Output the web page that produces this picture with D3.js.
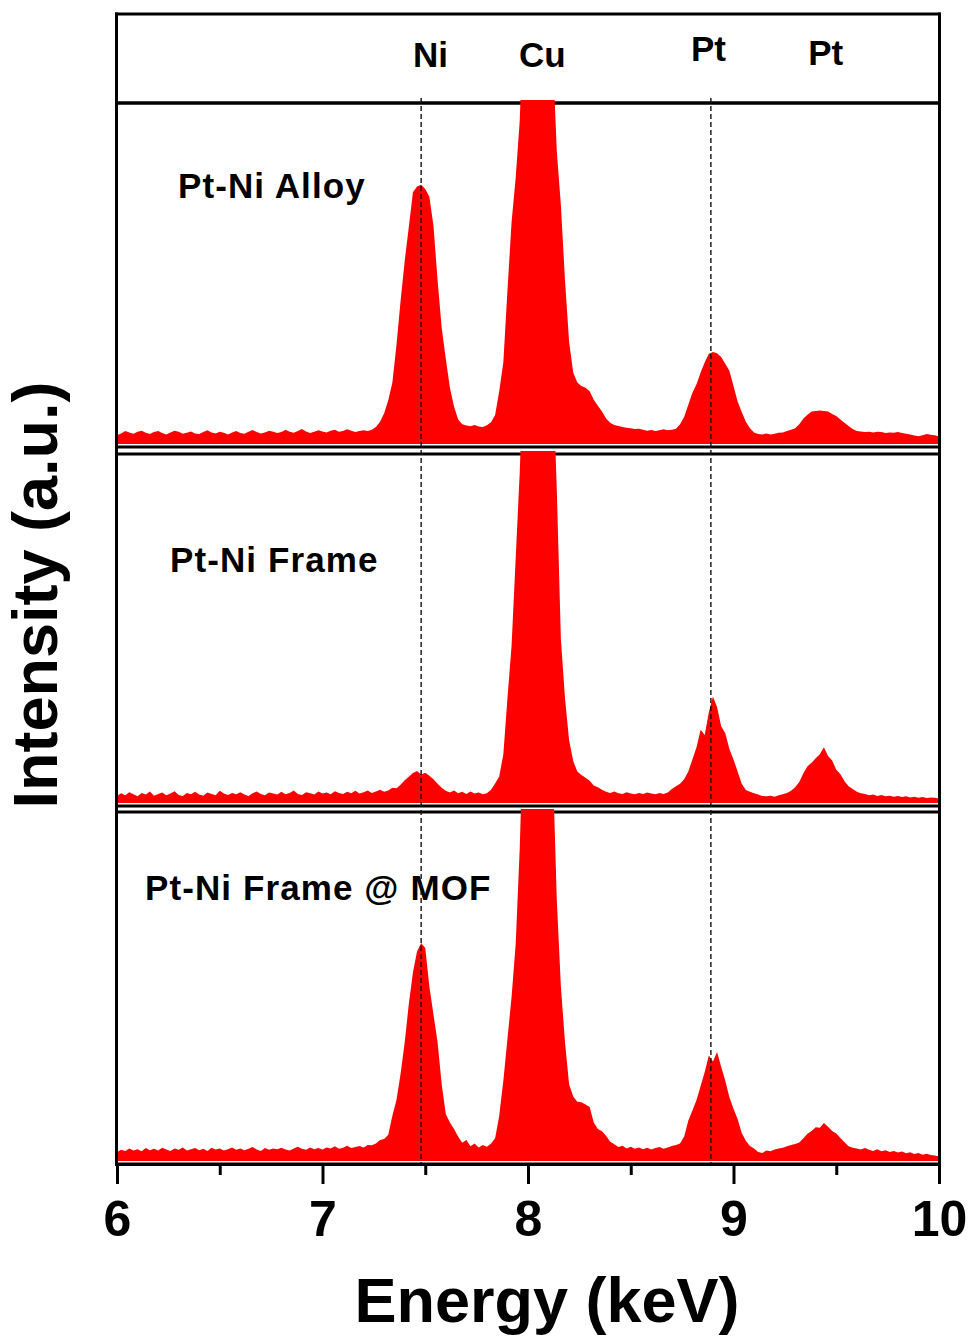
<!DOCTYPE html>
<html lang="en">
<head>
<meta charset="UTF-8">
<title>EDS spectra</title>
<script src="https://d3js.org/d3.v7.min.js"></script>
<style>
  body { margin: 0; background: #fff; }
  svg { display: block; }
  text { font-family: "Liberation Sans", Arial, sans-serif; font-weight: bold; fill: #000; }
</style>
</head>
<body>
<svg width="969" height="1340"></svg>
<script>
  // spectra sampled every 0.02 keV from 6 to 10 keV (intensity, 100 = panel top)
  const energyStart = 6, energyStep = 0.02;

  const alloy = [
    2.6, 3.1, 3.8, 3.4, 3.0, 3.6, 3.9, 3.3, 2.9, 3.5,
    3.8, 3.2, 2.8, 3.4, 3.9, 3.6, 3.0, 3.3, 3.7, 3.1,
    2.9, 3.5, 4.0, 3.4, 3.1, 3.6, 3.3, 2.8, 3.4, 3.8,
    3.2, 3.0, 3.6, 4.1, 3.5, 3.1, 3.4, 3.9, 3.6, 3.2,
    3.5, 4.2, 3.6, 3.3, 3.8, 4.4, 3.7, 3.2, 3.6, 4.0,
    3.7, 3.4, 3.9, 4.2, 3.6, 3.8, 4.3, 3.9, 3.5, 3.8,
    4.0, 3.8, 4.2, 5.0, 6.5, 9.0, 12.8, 18.0, 29.0, 42.0,
    53.7, 63.6, 73.8, 75.5, 76.0, 74.8, 72.5, 64.0, 48.0, 34.0,
    25.0, 16.5, 11.0, 7.2, 5.8, 5.4, 5.2, 5.6, 5.1, 5.0,
    5.5, 6.4, 8.5, 15.5, 24.0, 45.0, 65.0, 78.0, 95.0, 130,
    130, 130, 130, 130, 130, 130, 115, 86, 70, 48,
    30, 21, 18, 17, 16.5, 15.5, 13, 11.2, 9.5, 7.5,
    6.2, 5.6, 5.3, 5.0, 4.8, 4.6, 4.4, 4.5, 4.2, 3.9,
    4.1, 3.8, 4.0, 4.3, 4.0, 4.2, 4.5, 5.8, 8.0, 11.5,
    15, 17.5, 21, 24, 26.5, 27, 26.6, 25.5, 23.5, 21.5,
    17, 12.5, 9.4, 6.5, 4.6, 3.4, 2.9, 2.8, 3.1, 2.8,
    3.0, 3.3, 3.4, 3.8, 4.2, 4.6, 5.8, 7.5, 8.6, 9.5,
    9.7, 9.8, 9.7, 9.5, 8.8, 8.2, 7.2, 6.2, 5.3, 4.4,
    3.8, 3.7, 3.5, 3.6, 3.4, 3.6, 3.5, 3.2, 3.4, 3.3,
    3.5, 3.2, 3.0, 2.8, 2.5, 2.3, 2.6, 2.9, 2.7, 2.6,
    2.2
  ];

  const frame = [
    2.0, 2.8, 2.2, 3.1, 2.5, 1.9, 2.9, 2.4, 3.3, 2.1,
    2.6, 3.0, 2.2, 2.7, 3.4, 2.3, 2.0, 2.9, 2.5, 3.2,
    2.4, 2.1, 3.0, 2.6, 2.2, 3.5, 2.7, 2.3, 2.9, 2.5,
    3.1, 2.4, 2.0, 2.8, 3.3, 2.6, 2.2, 3.0, 2.7, 2.4,
    3.2, 2.5, 2.9, 3.6, 2.6, 2.3, 3.1, 2.8, 2.4, 3.3,
    2.7, 3.0, 2.5, 3.4, 2.9, 2.6, 3.2, 2.8, 3.5, 2.7,
    3.1, 3.6, 2.9, 3.3, 3.8, 3.2, 3.6, 4.4, 4.2, 5.2,
    6.5, 7.5, 8.6, 9.2, 8.2, 8.7, 7.8, 6.8, 5.5, 4.4,
    3.5, 3.0, 3.6, 2.8, 3.2, 2.6, 3.3, 2.7, 3.0, 2.5,
    2.8, 3.8, 5.6, 7.6, 14, 30, 45, 70, 95, 130,
    130, 130, 130, 130, 130, 130, 125, 90, 47, 30,
    18, 12, 9, 8, 7.2, 6.4, 5.0, 4.5, 3.8, 3.2,
    2.9, 3.3, 2.8, 2.6, 3.1, 2.7, 2.5, 2.9, 2.6, 3.0,
    2.7, 2.5, 2.9, 2.6, 3.0, 4.0, 4.8, 5.5, 6.8, 9.0,
    12.5, 16, 21, 19.5, 26, 30.5, 27.5, 22, 20, 15.5,
    12.5, 9, 5.5, 3.7, 3.2, 2.8, 2.4, 2.0, 1.9, 2.1,
    1.8, 2.2, 2.5, 2.9, 3.5, 4.5, 6.0, 8.5, 10.5, 11.5,
    12.8, 14, 16, 13.5, 12.2, 9.5, 8.3, 6.2, 4.8, 4.0,
    3.2, 2.8, 2.6, 2.2, 2.4, 2.0, 2.3, 1.9, 2.1, 1.8,
    2.0, 1.7, 1.9, 1.6, 1.8, 1.5, 1.7, 1.4, 1.6, 1.5,
    1.3
  ];

  const frameMof = [
    2.6, 3.2, 2.9, 3.6, 3.0, 3.4, 2.8, 3.7, 3.1, 3.5,
    3.0, 3.8, 3.3, 2.9, 3.6, 3.2, 3.9, 3.0, 3.4, 3.7,
    3.1, 3.5, 2.9, 3.8, 3.3, 3.6, 3.0, 3.4, 3.9, 3.2,
    3.6, 3.1, 3.5, 4.0, 3.3, 2.9, 3.7, 3.2, 3.6, 3.4,
    3.8, 3.3, 3.0, 3.6, 4.1, 3.5, 3.2, 3.9, 3.4, 3.7,
    3.3, 3.9, 3.6, 4.2, 3.5, 3.8, 4.4, 3.7, 4.0, 4.3,
    3.9, 4.6, 4.5, 5.0, 6.0, 6.3, 7.5, 13, 17.5, 25,
    34, 45, 54, 60, 62.5, 61, 50, 42, 34, 22,
    13.5, 11, 9.2, 7.0, 5.2, 6.0, 4.2, 5.0, 3.9, 4.6,
    4.1, 5.0, 6.5, 13, 23, 35, 47, 62, 90, 130,
    130, 130, 130, 130, 130, 130, 115, 75, 50, 34,
    22, 18.5, 17, 16.8, 16.2, 15.5, 11, 9.2, 8.5, 7.2,
    5.5, 4.8, 4.0, 4.4, 3.6, 4.1, 3.5, 3.9, 3.4, 3.8,
    3.3, 3.7, 4.0, 3.5, 3.9, 4.3, 4.6, 5.0, 7.0, 11.5,
    14.5, 17.5, 21.5, 25.5, 30.2, 28.5, 31.2, 27, 23, 18.3,
    15, 12, 8, 5.8, 4.3, 3.6, 2.6, 2.3, 3.0, 2.8,
    3.3, 3.6, 3.8, 4.2, 4.6, 4.9, 5.3, 6.5, 7.8, 8.6,
    9.7, 9.5, 10.9, 9.8, 8.6, 7.9, 6.6, 5.4, 4.2, 3.8,
    3.6, 3.3, 3.7, 3.2, 2.9, 3.4, 2.8, 3.1, 2.6, 2.9,
    2.4, 2.7, 2.2, 2.5, 2.0, 2.3, 1.8, 2.1, 1.7, 1.6,
    1.3
  ];

  const panelNames = ["Pt-Ni Alloy", "Pt-Ni Frame", "Pt-Ni Frame @ MOF"];
  const elementLabels = ["Ni", "Cu", "Pt", "Pt"];
  const elementEnergies = [7.525, 8.07, 8.878, 9.449];
  const markerEnergies = [7.48, 8.89];
  const xTicks = [6, 7, 8, 9, 10];
  const xMinorTicks = [6.5, 7.5, 8.5, 9.5];

  const svg = d3.select("svg");
  const left = 117, right = 939;
  const headerTop = 14, headerBottom = 103;
  const panels = [
    { top: 103, bottom: 447, nameX: 178, nameY: 198 },
    { top: 454, bottom: 806, nameX: 170, nameY: 572 },
    { top: 812, bottom: 1164, nameX: 145, nameY: 900 }
  ];
  const series = [alloy, frame, frameMof];

  const x = d3.scaleLinear().domain([6, 10]).range([left, right]);

  // horizontal frame lines
  const hLines = [headerTop, headerBottom];
  panels.forEach(p => { hLines.push(p.top, p.bottom); });
  svg.append("g")
    .selectAll("line")
    .data(hLines)
    .join("line")
    .attr("x1", left - 2).attr("x2", right + 1.5)
    .attr("y1", d => d).attr("y2", d => d)
    .attr("stroke", "#000").attr("stroke-width", 3);

  // spectra
  panels.forEach(function (p, i) {
    const y = d3.scaleLinear().domain([0, 100]).range([p.bottom - 3, p.top]);
    const pts = series[i].map((v, k) => ({ e: energyStart + k * energyStep, v: v }));

    svg.append("clipPath").attr("id", "clip" + i)
      .append("rect")
      .attr("x", left).attr("y", p.top - 3)
      .attr("width", right - left).attr("height", p.bottom - p.top);

    svg.append("path")
      .datum(pts)
      .attr("clip-path", "url(#clip" + i + ")")
      .attr("fill", "#ff0000")
      .attr("d", d3.area()
        .x(d => x(d.e))
        .y0(y(0))
        .y1(d => y(d.v)));

    svg.append("text")
      .attr("x", p.nameX).attr("y", p.nameY)
      .attr("font-size", 35)
      .attr("letter-spacing", 1.1)
      .text(panelNames[i]);
  });

  // vertical frame lines
  svg.append("g")
    .selectAll("line")
    .data([left - 0.5, right + 0.5])
    .join("line")
    .attr("x1", d => d).attr("x2", d => d)
    .attr("y1", headerTop - 1.5).attr("y2", 1166)
    .attr("stroke", "#000").attr("stroke-width", 3);

  // dashed marker lines
  svg.append("g")
    .selectAll("line")
    .data(markerEnergies)
    .join("line")
    .attr("x1", d => x(d)).attr("x2", d => x(d))
    .attr("y1", 98).attr("y2", 1163)
    .attr("stroke", "#111").attr("stroke-width", 1.4)
    .attr("stroke-dasharray", "5,3");

  // element labels
  const labelY = [67, 67, 61, 65];
  svg.append("g")
    .selectAll("text")
    .data(elementLabels)
    .join("text")
    .attr("x", (d, i) => x(elementEnergies[i]))
    .attr("y", (d, i) => labelY[i])
    .attr("text-anchor", "middle")
    .attr("font-size", 35)
    .text(d => d);

  // x axis
  const axis = svg.append("g")
    .attr("transform", "translate(0,1164)")
    .call(d3.axisBottom(x).tickValues(xTicks).tickSize(20).tickSizeOuter(0).tickFormat(d3.format("d")));
  axis.select(".domain").attr("stroke-width", 3);
  axis.selectAll(".tick line").attr("stroke-width", 3);
  axis.selectAll(".tick text")
    .attr("y", 36)
    .attr("font-size", 50)
    .attr("font-family", "'Liberation Sans', Arial, sans-serif")
    .attr("font-weight", "bold")
    .attr("fill", "#000");

  const minor = svg.append("g")
    .attr("transform", "translate(0,1164)")
    .call(d3.axisBottom(x).tickValues(xMinorTicks).tickSize(11).tickSizeOuter(0).tickFormat(""));
  minor.select(".domain").remove();
  minor.selectAll(".tick line").attr("stroke-width", 3);

  // axis titles
  svg.append("text")
    .attr("x", 547).attr("y", 1322)
    .attr("text-anchor", "middle")
    .attr("font-size", 63)
    .text("Energy (keV)");

  svg.append("text")
    .attr("transform", "translate(57,595) rotate(-90)")
    .attr("text-anchor", "middle")
    .attr("font-size", 63)
    .text("Intensity (a.u.)");
</script>
</body>
</html>
